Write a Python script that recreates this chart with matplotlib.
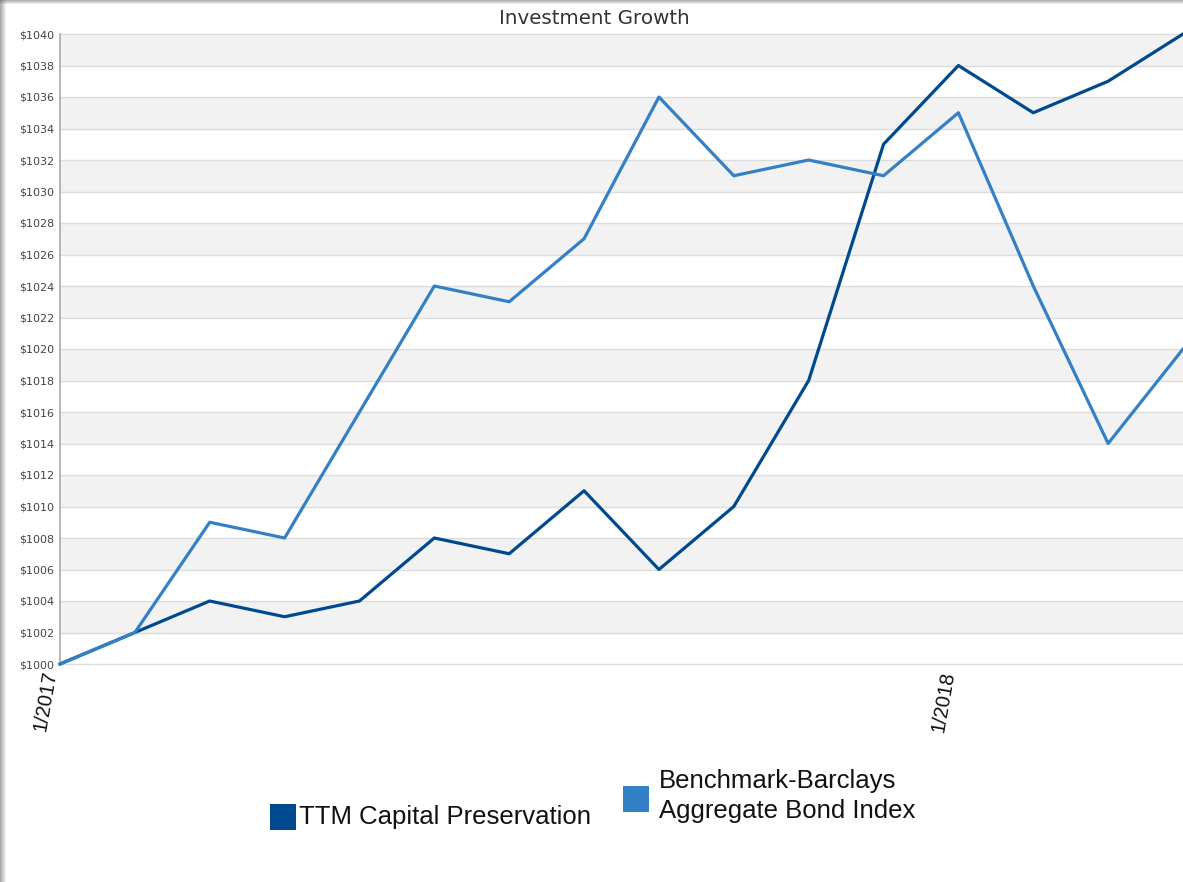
import matplotlib

matplotlib.use("Agg")
import matplotlib.pyplot as plt
import numpy as np
from matplotlib.patches import Rectangle

# monthly values
MONTHS = [
    "1/2017", "2/2017", "3/2017", "4/2017", "5/2017", "6/2017", "7/2017", "8/2017",
    "9/2017", "10/2017", "11/2017", "12/2017", "1/2018", "2/2018", "3/2018", "4/2018",
]
TTM = [1000, 1002, 1004, 1003, 1004, 1008, 1007, 1011, 1006, 1010, 1018, 1033, 1038, 1035, 1037, 1040]
BENCH = [1000, 1002, 1009, 1008, 1016, 1024, 1023, 1027, 1036, 1031, 1032, 1031, 1035, 1024, 1014, 1020]
SHOWN_TICKS = ["1/2017", "1/2018"]

DARK = "#00498f"
LIGHT = "#3480c6"

W, H = 1183, 882


def px(x, y):
    """pixel coords (top-left origin) to figure fraction"""
    return x / W, 1 - y / H


def draw_frame(fig):
    """grey shadow along the left and top edges"""
    for i in range(6):
        a = 0.55 * (1 - i / 6)
        fig.patches.append(Rectangle((i / W, 0), 1 / W, 1, transform=fig.transFigure,
                                     facecolor="#666666", alpha=a, edgecolor="none"))
    for i in range(4):
        a = 0.5 * (1 - i / 4)
        fig.patches.append(Rectangle((0, 1 - (i + 1) / H), 1, 1 / H, transform=fig.transFigure,
                                     facecolor="#666666", alpha=a, edgecolor="none"))


def draw_legend(fig):
    x0, y0 = px(270, 830)
    fig.patches.append(Rectangle((x0, y0), 26 / W, 26 / H, transform=fig.transFigure,
                                 facecolor=DARK, edgecolor="none"))
    fig.text(*px(299, 817), "TTM Capital Preservation", fontsize=18.5,
             family="Liberation Sans", color="#111111", va="center", ha="left")
    x1, y1 = px(623, 812)
    fig.patches.append(Rectangle((x1, y1), 26 / W, 26 / H, transform=fig.transFigure,
                                 facecolor=LIGHT, edgecolor="none"))
    fig.text(*px(659, 796), "Benchmark-Barclays\nAggregate Bond Index", fontsize=18.5,
             family="Liberation Sans", color="#111111", va="center", ha="left", linespacing=1.3)


def main():
    fig = plt.figure(figsize=(W / 100, H / 100), dpi=100)
    left, bottom = px(60, 664)
    _, top = px(0, 34)
    ax = fig.add_axes([left, bottom, 1 - left, top - bottom])

    x = np.arange(len(MONTHS))
    yticks = np.arange(1000, 1041, 2)

    # alternating bands
    for lo in yticks[1:-1:2]:
        ax.axhspan(lo, lo + 2, facecolor="#f2f2f2", edgecolor="none", zorder=0)
    for yv in yticks:
        ax.axhline(yv, color="#dcdcdc", linewidth=1.0, zorder=1, clip_on=False)

    ax.plot(x, TTM, color=DARK, linewidth=2.3, zorder=3, clip_on=False)
    ax.plot(x, BENCH, color=LIGHT, linewidth=2.3, zorder=4, clip_on=False)

    ax.set_xlim(0, len(MONTHS) - 1)
    ax.set_ylim(1000, 1040)
    ax.set_yticks(yticks)
    ax.set_yticklabels([f"${v}" for v in yticks], fontsize=8, color="#444444")
    ax.set_xticks([MONTHS.index(m) for m in SHOWN_TICKS])
    ax.set_xticklabels(SHOWN_TICKS, rotation=80, fontsize=14.5, family="Liberation Sans",
                       ha="right", va="top", color="#111111")
    ax.tick_params(length=0, pad=4)
    ax.tick_params(axis="x", pad=4)

    for s in ["top", "right", "bottom"]:
        ax.spines[s].set_visible(False)
    ax.spines["left"].set_color("#aaaaaa")
    ax.spines["left"].set_linewidth(1.2)

    fig.text(*px(594, 19), "Investment Growth", fontsize=14.3, color="#333333",
             ha="center", va="center")

    draw_legend(fig)
    draw_frame(fig)

    fig.savefig("out.png", dpi=100)


if __name__ == "__main__":
    main()
